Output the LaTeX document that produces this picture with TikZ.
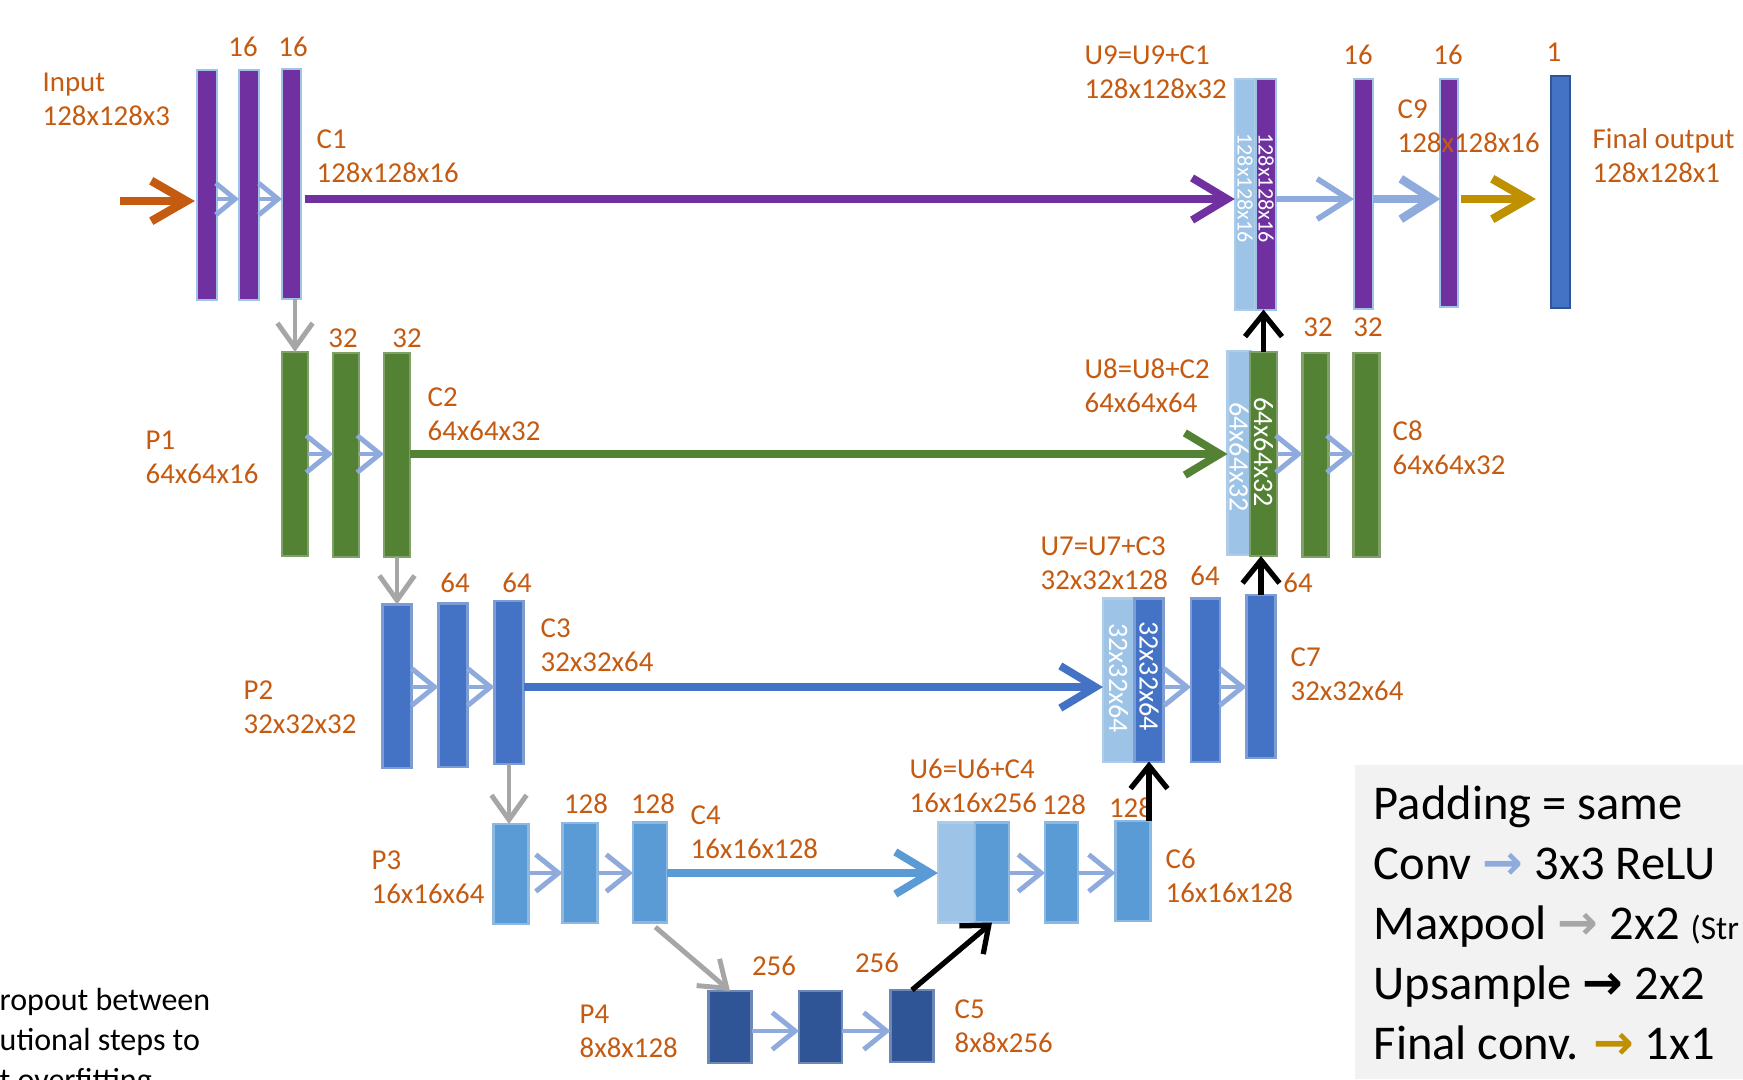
\documentclass[tikz,border=0pt]{standalone}
\usepackage{fontspec}
\setmainfont{Carlito}
\newfontfamily\arrowfont{DejaVu Sans}
\usepackage{xcolor}
\usepackage{tikz}
\usetikzlibrary{arrows.meta, positioning}
\definecolor{upurple}{HTML}{7030A0}
\definecolor{ugreen}{HTML}{548235}
\definecolor{ublue}{HTML}{4472C4}
\definecolor{umid}{HTML}{5B9BD5}
\definecolor{udark}{HTML}{2F5597}
\definecolor{ucat}{HTML}{9DC3E6}
\definecolor{uorange}{HTML}{C55A11}
\definecolor{convc}{HTML}{8FAADC}
\definecolor{poolc}{HTML}{A6A6A6}
\definecolor{goldc}{HTML}{BF9000}
\definecolor{legbg}{HTML}{F2F2F2}
\newcommand\lblfont{\fontsize{8.2}{9.64}\selectfont}
\newcommand\legarrow{{\arrowfont\bfseries →}}

\begin{document}
\begin{tikzpicture}[x=0.01cm, y=-0.01cm,
  ubar/.style={rectangle, inner sep=0pt, outer sep=0pt, line width=0.6pt},
  barA/.style={ubar, fill=upurple, draw=ucat, minimum width=2mm, minimum height=23mm},
  barB/.style={ubar, fill=ugreen, draw=ugreen!75!white, minimum width=2.6mm, minimum height=20.4mm},
  barC/.style={ubar, fill=ublue, draw=ublue!70!white, minimum width=2.9mm, minimum height=16.3mm},
  barD/.style={ubar, fill=umid, draw=umid!70!white, minimum width=3.5mm, minimum height=10mm},
  barE/.style={ubar, fill=udark, draw=udark!70!white, minimum width=4.3mm, minimum height=7.2mm},
  catbar/.style={fill=ucat, draw=ucat!85!white},
  lbl/.style={text=uorange, font=\lblfont, align=left, anchor=west, inner sep=0pt},
  num/.style={text=uorange, font=\lblfont, inner sep=0pt},
  cattxt/.style={text=white, rotate=-90, inner sep=0pt},
  legtxt/.style={anchor=base west, inner sep=0pt, font=\fontsize{13.8}{16}\selectfont},
  note/.style={anchor=base west, inner sep=0pt, font=\fontsize{9.1}{11}\selectfont},
  conv/.style={-{Straight Barb[length=6.5pt,width=10.5pt]}, draw=convc, line width=1.4pt},
  convA/.style={conv, -{Straight Barb[length=5.5pt,width=9pt]}},
  convU/.style={conv, -{Straight Barb[length=9pt,width=11.5pt]}},
  skiparr/.style={-{Straight Barb[length=10pt,width=12pt]}, line width=2.2pt},
  bigarr/.style={-{Straight Barb[length=10pt,width=11.5pt]}, line width=2.4pt},
  pool/.style={-{Straight Barb[length=7pt,width=10pt]}, draw=poolc, line width=1.4pt},
  upsmp/.style={-{Straight Barb[length=6.5pt,width=10.5pt]}, draw=black, line width=1.5pt}]

  \useasboundingbox (0,0) rectangle (1743,1079);
  \clip (0,0) rectangle (1743,1079);
  \fill[white] (0,0) rectangle (1743,1079);

  %% Row axes for horizontal arrows
  \coordinate (axA) at (0,199);
  \coordinate (axB) at (0,454);
  \coordinate (axC) at (0,687);
  \coordinate (axD) at (0,873);
  \coordinate (axE) at (0,1031);

  %% Level 1 (128x128)
  \node[barA] (c1a) at (207,185) {};
  \node[barA] (c1b) at (249,185) {};
  \node[barA, minimum width=1.9mm] (c1c) at (291.5,184) {};
  \node[barA, catbar, minimum width=2.05mm] (u9a) at (1245,194.5) {};
  \node[barA, minimum width=2.05mm] (u9b) at (1266,194.5) {};
  \node[barA, minimum width=1.9mm] (c9a) at (1363.5,194) {};
  \node[barA, minimum width=1.75mm, minimum height=22.8mm] (c9b) at (1449,193) {};
  \node[barA, fill=ublue, draw=udark, minimum width=1.9mm, minimum height=23.2mm] (out) at (1560.5,192) {};

  %% Level 2 (64x64)
  \node[barB] (c2a) at (295,454) {};
  \node[barB] (c2b) at (346,455) {};
  \node[barB] (c2c) at (397,455) {};
  \node[barB, catbar, minimum width=2.3mm] (u8a) at (1239,453) {};
  \node[barB, minimum width=2.7mm] (u8b) at (1263.5,454) {};
  \node[barB] (c8a) at (1315.5,455) {};
  \node[barB] (c8b) at (1366.5,455) {};

  %% Level 3 (32x32)
  \node[barC] (c3a) at (397,686) {};
  \node[barC] (c3b) at (453,685) {};
  \node[barC] (c3c) at (509,682.5) {};
  \node[barC, catbar, minimum width=3.1mm] (u7a) at (1118.5,680) {};
  \node[barC] (u7b) at (1149,680) {};
  \node[barC] (c7a) at (1205.5,680) {};
  \node[barC] (c7b) at (1261,676.5) {};

  %% Level 4 (16x16)
  \node[barD] (c4a) at (511,874) {};
  \node[barD] (c4b) at (580,873) {};
  \node[barD, minimum width=3.4mm] (c4c) at (650,872.5) {};
  \node[barD, catbar, minimum width=3.7mm] (u6a) at (956.5,872.5) {};
  \node[barD, minimum width=3.4mm] (u6b) at (992,872.5) {};
  \node[barD, minimum width=3.3mm] (c6a) at (1061.5,872.5) {};
  \node[barD] (c6b) at (1133,871) {};

  %% Level 5 (8x8)
  \node[barE] (c5a) at (730,1027) {};
  \node[barE] (c5b) at (820.5,1027) {};
  \node[barE] (c5c) at (912,1026) {};

  %% Sizes written in the concatenated bars
  \node[cattxt, font=\fontsize{6.3}{7}\selectfont] (t9a) at (u9a |- 0,188) {128x128x16};
  \node[cattxt, font=\fontsize{6.3}{7}\selectfont] (t9b) at (u9b |- 0,188) {128x128x16};
  \node[cattxt, font=\fontsize{8}{9}\selectfont] (t8a) at (u8a |- 0,457) {64x64x32};
  \node[cattxt, font=\fontsize{8}{9}\selectfont] (t8b) at (u8b |- 0,452) {64x64x32};
  \node[cattxt, font=\fontsize{8}{9}\selectfont] (t7a) at (u7a |- 0,678) {32x32x64};
  \node[cattxt, font=\fontsize{8}{9}\selectfont] (t7b) at (u7b |- 0,676) {32x32x64};

  %% Shape labels
  \node[lbl] (lIn) at (42,99) {Input\\128x128x3};
  \node[lbl] (lC1) at (316,156.5) {C1\\128x128x16};
  \node[lbl] (lU9) at (1084,72) {U9=U9+C1\\128x128x32};
  \node[lbl] (lC9) at (1397,126) {C9\\128x128x16};
  \node[lbl] (lOut) at (1592,155.5) {Final output\\128x128x1};
  \node[lbl] (lP1) at (145,457.5) {P1\\64x64x16};
  \node[lbl] (lC2) at (427,414) {C2\\64x64x32};
  \node[lbl] (lU8) at (1084,385.5) {U8=U8+C2\\64x64x64};
  \node[lbl] (lC8) at (1392,448) {C8\\64x64x32};
  \node[lbl] (lP2) at (243,707.5) {P2\\32x32x32};
  \node[lbl] (lC3) at (540,645.5) {C3\\32x32x64};
  \node[lbl] (lU7) at (1040,563.5) {U7=U7+C3\\32x32x128};
  \node[lbl] (lC7) at (1290,674.5) {C7\\32x32x64};
  \node[lbl] (lP3) at (371,877.5) {P3\\16x16x64};
  \node[lbl] (lC4) at (690,832.5) {C4\\16x16x128};
  \node[lbl] (lU6) at (909,785.5) {U6=U6+C4\\16x16x256};
  \node[lbl] (lC6) at (1165,875.5) {C6\\16x16x128};
  \node[lbl] (lP4) at (579,1031) {P4\\8x8x128};
  \node[lbl] (lC5) at (954,1026) {C5\\8x8x256};

  %% Filter counts
  \node[num] (n1a) at (243,47) {16};
  \node[num] (n1b) at (293,47) {16};
  \node[num] (n2a) at (343,338) {32};
  \node[num] (n2b) at (407,338) {32};
  \node[num] (n3a) at (455,583) {64};
  \node[num] (n3b) at (517,583) {64};
  \node[num] (n4a) at (586,804) {128};
  \node[num] (n4b) at (653,804) {128};
  \node[num] (n5a) at (774,966) {256};
  \node[num] (n5b) at (877,963) {256};
  \node[num] (n6a) at (1064,805) {128};
  \node[num] (n6b) at (1131,808) {128};
  \node[num] (n7a) at (1205,576) {64};
  \node[num] (n7b) at (1298,583) {64};
  \node[num] (n8a) at (1318,327) {32};
  \node[num] (n8b) at (1368,327) {32};
  \node[num] (n9a) at (1358,55) {16};
  \node[num] (n9b) at (1448,55) {16};
  \node[num] (nOut) at (1554,52) {1};

  %% Input and final 1x1 conv
  \coordinate (inp) at (120,201);
  \draw[bigarr, draw=uorange, shorten >=0.6pt] (inp) -- (c1a.west |- inp);
  \draw[bigarr, draw=goldc, shorten <=1pt, shorten >=4.3pt] (c9b.east |- axA) -- (out.west |- axA);

  %% 3x3 conv steps
  \draw[convA] (c1a.east |- axA) -- (c1b.west |- axA);
  \draw[convA] (c1b.east |- axA) -- (c1c.west |- axA);
  \draw[convU, line width=1.6pt] (u9b.east |- axA) -- (c9a.west |- axA);
  \draw[convU, line width=2.4pt] (c9a.east |- axA) -- (c9b.west |- axA);
  \foreach \a/\b/\ax in {c2a/c2b/axB, c2b/c2c/axB, u8b/c8a/axB, c8a/c8b/axB,
      c3a/c3b/axC, c3b/c3c/axC, u7b/c7a/axC, c7a/c7b/axC,
      c4a/c4b/axD, c4b/c4c/axD, u6b/c6a/axD, c6a/c6b/axD,
      c5a/c5b/axE, c5b/c5c/axE}
    \draw[conv] (\a.east |- \ax) -- (\b.west |- \ax);

  %% Skip connections
  \draw[skiparr, draw=upurple, shorten <=1pt] (c1c.east |- axA) -- (u9a.west |- axA);
  \draw[skiparr, draw=ugreen] (c2c.east |- axB) -- (u8a.west |- axB);
  \draw[skiparr, draw=ublue] (c3c.east |- axC) -- (u7a.west |- axC);
  \draw[skiparr, draw=umid] (c4c.east |- axD) -- (u6a.west |- axD);

  %% Maxpool
  \draw[pool] (c2a.north |- c1c.south) -- (c2a.north);
  \draw[pool] (c3a.north |- c2c.south) -- (c3a.north);
  \draw[pool] (c3c.south) -- (c3c.south |- c4a.north);
  \draw[pool, shorten <=2pt] (c4c.south) -- (c5a.north);

  %% Upsample
  \draw[upsmp] (c5c.north) -- (u6b.south);
  \draw[upsmp] (u7b.south |- c6b.north) -- (u7b.south);
  \draw[upsmp] (c7b.north) -- (c7b.north |- u8b.south);
  \draw[upsmp] (u8b.north) -- (u8b.north |- u9b.south);

  %% Legend
  \fill[legbg] (1355,765) rectangle (1743,1079);
  \node[legtxt] (leg1) at (1373,819) {Padding = same};
  \node[legtxt] (leg2) at (1373,879) {Conv \textcolor{convc}{\legarrow} 3x3 ReLU};
  \node[legtxt] (leg3) at (1373,939) {Maxpool \textcolor{poolc}{\legarrow} 2x2 {\fontsize{9.5}{11}\selectfont(Str}};
  \node[legtxt] (leg4) at (1373,999) {Upsample \legarrow{} 2x2};
  \node[legtxt] (leg5) at (1373,1059) {Final conv. \textcolor{goldc}{\legarrow} 1x1};

  %% Note cut at the left edge
  \node[note] (nt1) at (-1,1010) {ropout between};
  \node[note] (nt2) at (-1,1050) {utional steps to};
  \node[note] (nt3) at (-1,1090) {t overfitting};
\end{tikzpicture}
\end{document}
